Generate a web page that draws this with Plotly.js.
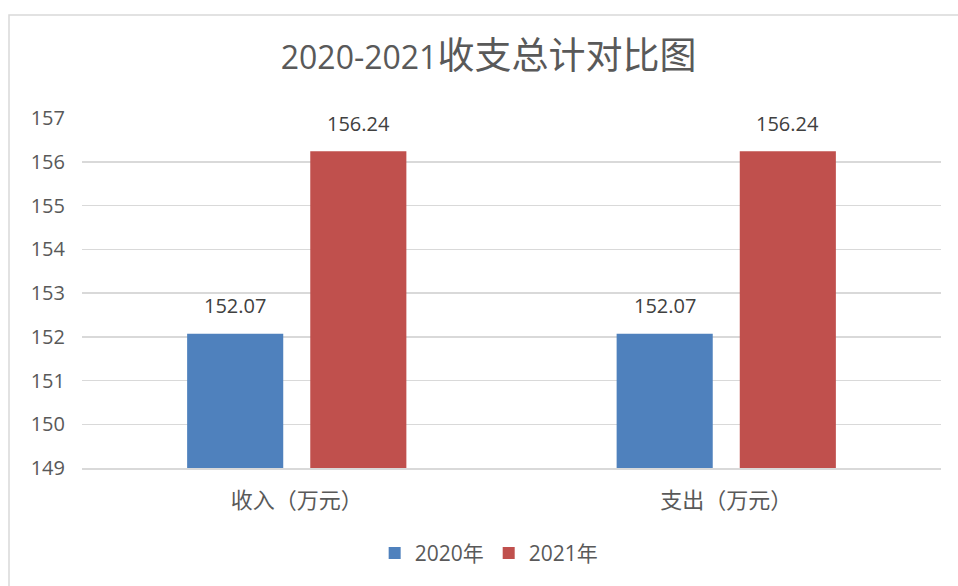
<!DOCTYPE html>
<html>
<head>
<meta charset="utf-8">
<script src="https://cdn.plot.ly/plotly-3.0.1.min.js"></script>
<style>html,body{margin:0;padding:0;background:#fff;}#chart{width:958px;height:586px;}</style>
</head>
<body>
<div id="chart"></div>
<script>
const categories = ["收入（万元）", "支出（万元）"];
const seriesNames = ["2020年", "2021年"];
const values2020 = [152.07, 152.07];
const values2021 = [156.24, 156.24];
const seriesColors = ["#4F81BD", "#C0504D"];
const yTickVals = [149, 150, 151, 152, 153, 154, 155, 156, 157];

const FONT = 'Open Sans, "Noto Sans CJK SC", sans-serif';
const allSeries = [values2020, values2021];

const traces = allSeries.map((vals, i) => ({
  type: "bar",
  name: seriesNames[i],
  x: categories,
  y: vals,
  marker: {color: seriesColors[i]},
  hoverinfo: "x+y+name"
}));

const offsets = [-0.1434, 0.1434];
const annotations = [];
allSeries.forEach((vals, i) => {
  vals.forEach((v, j) => {
    annotations.push({
      xref: "x", yref: "y",
      x: j + offsets[i], y: v,
      text: v.toFixed(2),
      showarrow: false,
      yanchor: "middle",
      yshift: 28,
      font: {family: FONT, size: 20, color: "#404040"}
    });
  });
});

const layout = {
  width: 958, height: 586,
  margin: {l: 82, r: 17, t: 118, b: 118},
  paper_bgcolor: "#ffffff",
  plot_bgcolor: "#ffffff",
  barmode: "group",
  bargap: 0.4266,
  bargroupgap: 0.2195,
  title: {
    text: "2020-2021<span style=\"font-size:37px\">收支总计对比图</span>",
    font: {family: FONT, size: 32, color: "#595959"},
    xref: "container", yref: "container",
    x: 0.510, y: 0.901, xanchor: "center", yanchor: "middle"
  },
  xaxis: {
    type: "category",
    showgrid: false,
    showline: true,
    linecolor: "#D9D9D9",
    linewidth: 1.5,
    ticks: "",
    ticklabelstandoff: 12,
    tickfont: {family: FONT, size: 22, color: "#595959"},
    zeroline: false
  },
  yaxis: {
    range: [149, 157],
    tickvals: yTickVals,
    showgrid: true,
    gridcolor: "#D9D9D9",
    gridwidth: 1.5,
    showline: false,
    zeroline: false,
    ticks: "",
    ticklabelstandoff: 16,
    tickfont: {family: FONT, size: 20, color: "#595959"}
  },
  showlegend: true,
  legend: {
    orientation: "h",
    x: 0.474, xanchor: "center",
    y: -0.244, yanchor: "middle",
    font: {family: FONT, size: 21, color: "#595959"},
    itemwidth: 30,
    traceorder: "normal"
  },
  annotations: annotations,
  shapes: [{
    type: "rect", xref: "paper", yref: "paper",
    x0: (9 - 82) / 859, x1: 1.2,
    y0: -0.6, y1: 1 + (118 - 15) / 350,
    line: {color: "#D9D9D9", width: 1.5},
    fillcolor: "rgba(0,0,0,0)",
    layer: "below"
  }]
};

Plotly.newPlot("chart", traces, layout, {displayModeBar: false, staticPlot: true});
</script>
</body>
</html>
